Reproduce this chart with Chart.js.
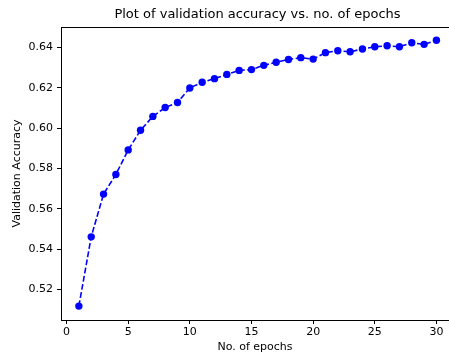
<!DOCTYPE html>
<html>
<head>
<meta charset="utf-8">
<script src="https://cdn.jsdelivr.net/npm/chart.js@4/dist/chart.umd.min.js"></script>
<style>
html,body{margin:0;padding:0;background:#fff;overflow:hidden;}
#wrap{width:449px;height:358px;position:relative;}
</style>
</head>
<body>
<div id="wrap"><canvas id="c" width="449" height="358"></canvas></div>
<script>
const epochs = [1,2,3,4,5,6,7,8,9,10,11,12,13,14,15,16,17,18,19,20,21,22,23,24,25,26,27,28,29,30];
const valAcc = [0.5118,0.5461,0.5673,0.5770,0.5892,0.5989,0.6058,0.6102,0.6127,0.6199,
                0.6227,0.6245,0.6266,0.6286,0.6290,0.6311,0.6326,0.6340,0.6349,0.6342,
                0.6374,0.6383,0.6378,0.6392,0.6403,0.6408,0.6403,0.6423,0.6415,0.6435];
const xTicks = [0,5,10,15,20,25,30];
const yTicks = [0.52,0.54,0.56,0.58,0.60,0.62,0.64];
const titleText = 'Plot of validation accuracy vs. no. of epochs';
const xLabel = 'No. of epochs';
const yLabel = 'Validation Accuracy';

const FONT = 'DejaVu Sans';

const framePlugin = {
  id: 'frame',
  afterDraw(chart) {
    const {ctx, chartArea: a} = chart;
    ctx.save();
    ctx.strokeStyle = '#000';
    ctx.lineWidth = 1;
    ctx.beginPath();
    ctx.moveTo(a.left, a.top + 0.5);
    ctx.lineTo(a.right, a.top + 0.5);
    ctx.stroke();
    ctx.fillStyle = '#000';
    ctx.font = '13px "' + FONT + '"';
    ctx.textAlign = 'center';
    ctx.textBaseline = 'middle';
    ctx.fillText(titleText, 257.5, 15);
    ctx.restore();
  }
};

new Chart(document.getElementById('c'), {
  type: 'scatter',
  data: {
    datasets: [{
      data: epochs.map((e, i) => ({x: e, y: valAcc[i]})),
      showLine: true,
      borderColor: '#0000ff',
      backgroundColor: '#0000ff',
      borderWidth: 1.6,
      borderDash: [5.8, 2.5],
      pointRadius: 3.7,
      pointHoverRadius: 3.7,
      pointBorderWidth: 0,
      pointBackgroundColor: '#0000ff'
    }]
  },
  options: {
    responsive: false,
    animation: false,
    devicePixelRatio: 1,
    layout: {autoPadding: false, padding: {top: 27, right: 0, left: 0, bottom: 0}},
    plugins: {legend: {display: false}, tooltip: {enabled: false}, title: {display: false}},
    scales: {
      x: {
        type: 'linear',
        min: -0.45, max: 31.02,
        afterBuildTicks: s => { s.ticks = xTicks.map(v => ({value: v})); },
        afterFit: s => { s.height = 38; s.paddingLeft = 0; s.paddingRight = 0; },
        grid: {display: true, drawOnChartArea: false, drawTicks: true, tickLength: 4, color: '#000', tickColor: '#000'},
        border: {display: true, color: '#000', width: 1},
        ticks: {color: '#000', font: {family: FONT, size: 11}, padding: 2, maxRotation: 0, autoSkip: false},
        title: {display: true, text: xLabel, color: '#000', font: {family: FONT, size: 11}, padding: {top: 0, bottom: 4}}
      },
      y: {
        type: 'linear',
        min: 0.5049, max: 0.6501,
        afterBuildTicks: s => { s.ticks = yTicks.map(v => ({value: v})); },
        afterFit: s => { s.width = 61; s.paddingTop = 0; s.paddingBottom = 0; },
        grid: {display: true, drawOnChartArea: false, drawTicks: true, tickLength: 4, color: '#000', tickColor: '#000'},
        border: {display: true, color: '#000', width: 1},
        ticks: {color: '#000', font: {family: FONT, size: 11}, padding: 4, autoSkip: false,
                callback: v => v.toFixed(2)},
        title: {display: true, text: yLabel, color: '#000', font: {family: FONT, size: 11}, padding: {top: 11, bottom: 0}}
      }
    }
  },
  plugins: [framePlugin]
});
</script>
</body>
</html>
